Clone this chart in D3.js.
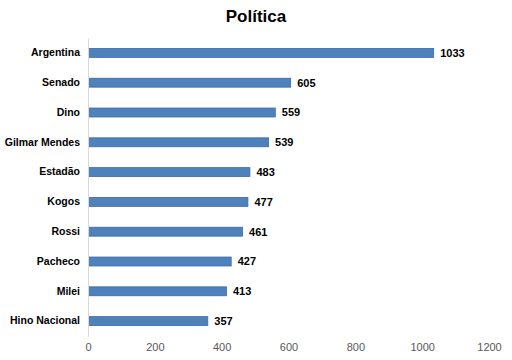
<!DOCTYPE html>
<html>
<head>
<meta charset="utf-8">
<script src="https://cdn.jsdelivr.net/npm/d3@7"></script>
<style>
  body { margin: 0; background: #fff; }
  svg { font-family: "Liberation Sans", Arial, sans-serif; }
</style>
</head>
<body>
<div id="wrapper"></div>
<script>
const categories = ["Argentina", "Senado", "Dino", "Gilmar Mendes", "Estadão", "Kogos", "Rossi", "Pacheco", "Milei", "Hino Nacional"]
const values = [1033, 605, 559, 539, 483, 477, 461, 427, 413, 357]
const xTicks = [0, 200, 400, 600, 800, 1000, 1200]

let dimensions = {
  width: 512,
  height: 360,
  margin: {
    top: 38,
    right: 23,
    bottom: 24,
    left: 88,
  },
}
dimensions.boundedWidth = dimensions.width
  - dimensions.margin.left
  - dimensions.margin.right
dimensions.boundedHeight = dimensions.height
  - dimensions.margin.top
  - dimensions.margin.bottom

const wrapper = d3.select("#wrapper")
  .append("svg")
    .attr("width", dimensions.width)
    .attr("height", dimensions.height)

wrapper.append("text")
    .attr("x", dimensions.width / 2)
    .attr("y", 22)
    .attr("text-anchor", "middle")
    .style("font-size", "17px")
    .style("font-weight", "bold")
    .text("Política")

const bounds = wrapper.append("g")
    .attr("transform", `translate(${dimensions.margin.left},${dimensions.margin.top})`)

const xScale = d3.scaleLinear()
  .domain([0, 1200])
  .range([0, dimensions.boundedWidth])

const yScale = d3.scaleBand()
  .domain(categories)
  .range([0, dimensions.boundedHeight])
  .paddingInner(0.7)
  .paddingOuter(0.35)

const data = categories.map((c, i) => ({ name: c, value: values[i] }))

bounds.selectAll("rect")
  .data(data)
  .join("rect")
    .attr("x", 0.5)
    .attr("y", d => yScale(d.name))
    .attr("width", d => xScale(d.value))
    .attr("height", yScale.bandwidth())
    .attr("fill", "#4f81bd")
    .attr("stroke", "#3b6ba5")
    .attr("stroke-width", 0.8)

bounds.selectAll(".value")
  .data(data)
  .join("text")
    .attr("class", "value")
    .attr("x", d => xScale(d.value) + 7)
    .attr("y", d => yScale(d.name) + yScale.bandwidth() / 2)
    .attr("dy", "0.35em")
    .style("font-size", "11px")
    .style("font-weight", "bold")
    .text(d => d.value)

const yAxis = bounds.append("g")
  .call(d3.axisLeft(yScale).tickSize(0).tickPadding(8))
yAxis.select(".domain").attr("stroke", "#d9d9d9")
yAxis.selectAll("text")
  .style("font-size", "10.5px")
  .style("font-weight", "bold")
  .style("font-family", "\"Liberation Sans\", Arial, sans-serif")
  .attr("fill", "#000")

const xAxis = bounds.append("g")
  .attr("transform", `translate(0,${dimensions.boundedHeight})`)
  .call(d3.axisBottom(xScale).tickValues(xTicks).tickFormat(d3.format("d")).tickSize(0).tickPadding(7))
xAxis.select(".domain").remove()
xAxis.selectAll("text")
  .style("font-size", "11px")
  .style("font-family", "\"Liberation Sans\", Arial, sans-serif")
  .attr("fill", "#595959")
</script>
</body>
</html>
